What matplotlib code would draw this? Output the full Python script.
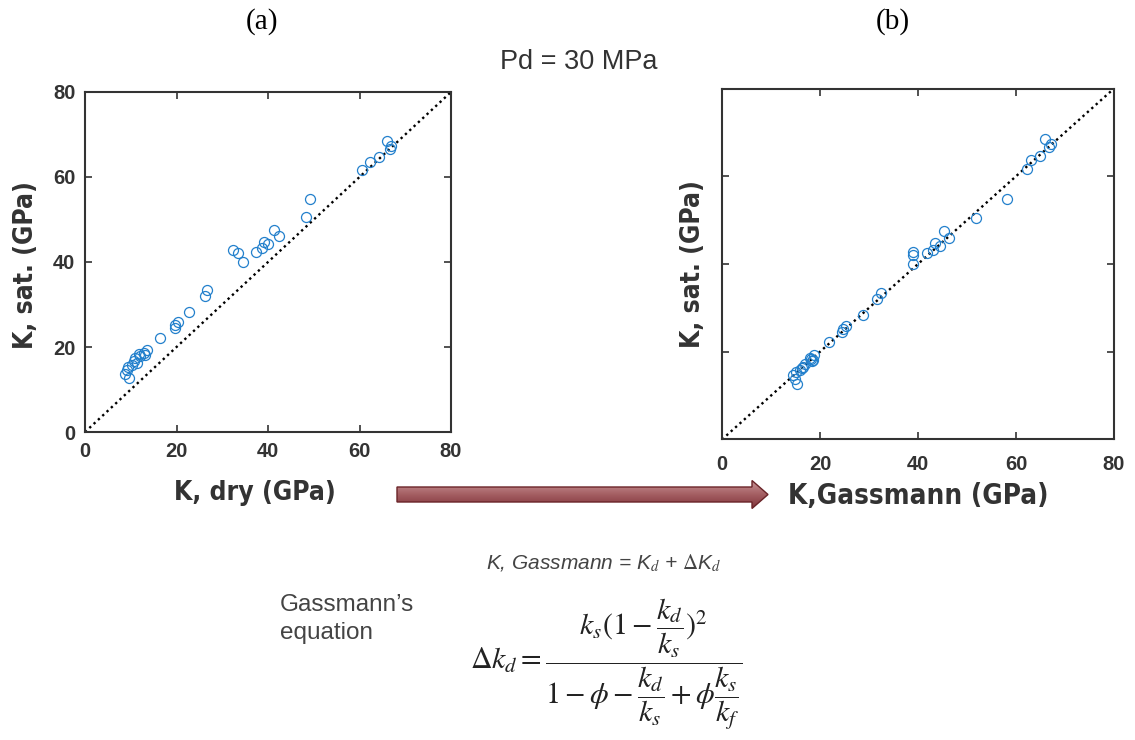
import matplotlib
matplotlib.use("Agg")
import matplotlib.pyplot as plt
import numpy as np
from matplotlib.patches import FancyArrow
from matplotlib import font_manager as fm

# ---------------- data ----------------
k_sat = [68.4, 67.3, 66.7, 64.6, 63.6, 61.7, 54.8, 50.5, 47.5, 46.0, 44.8, 44.2,
         43.2, 42.4, 42.8, 42.0, 39.9, 33.4, 32.0, 28.3, 25.8, 25.2, 24.4, 22.2,
         19.2, 18.6, 18.3, 17.8, 17.3, 16.6, 16.2, 15.8, 15.4, 14.6, 13.7, 12.7, 18.2]
k_dry = [66.0, 66.9, 66.7, 64.3, 62.2, 60.5, 49.1, 48.4, 41.2, 42.5, 39.1, 40.1,
         38.6, 37.4, 32.3, 33.4, 34.5, 26.6, 26.3, 22.8, 20.4, 19.7, 19.7, 16.4,
         13.5, 12.8, 11.7, 12.0, 10.9, 10.6, 11.3, 10.2, 9.5, 9.1, 8.7, 9.6, 13.1]
k_gass = [66.0, 67.2, 66.7, 65.0, 63.0, 62.3, 58.1, 51.9, 45.4, 46.4, 43.5, 44.5,
          43.0, 41.8, 38.9, 38.9, 38.9, 32.5, 31.7, 28.8, 25.4, 24.7, 24.5, 21.8,
          18.8, 17.9, 18.2, 18.4, 16.9, 16.5, 16.3, 15.9, 15.2, 14.5, 14.9, 15.4, 18.6]
ticks = [0, 20, 40, 60, 80]

# ---------------- fonts ----------------
cond_path = None
cands = []
for f in fm.fontManager.ttflist:
    low = f.fname.lower()
    if ("condensed" in low or "narrow" in low) and ("bold" in low) and ("oblique" not in low) and ("italic" not in low):
        cands.append(f.fname)
cands.sort(key=lambda p: (0 if "liberation" in p.lower() else 1 if "dejavu" in p.lower() else 2, p))
if cands:
    cond_path = cands[0]

def lab_font(size):
    if cond_path:
        return fm.FontProperties(fname=cond_path, size=size)
    return fm.FontProperties(family="Liberation Sans", weight="bold", size=size)

plt.rcParams["mathtext.fontset"] = "stix"

W, H = 1135, 740
fig = plt.figure(figsize=(W / 100, H / 100), dpi=100)

blue = "#2380cc"
dark = "#333333"

def panel(rect, x, y, xlabel, show_yticks, xpad, xsize):
    ax = fig.add_axes(rect)
    ax.plot([0, 80], [0, 80], linestyle=(0, (1, 1.5)), color="black", lw=1.7, zorder=1)
    ax.plot(x, y, linestyle="none", marker="o", markersize=7.2, mfc="none",
            mec=blue, mew=0.9, zorder=2)
    ax.set_xlim(0, 80)
    ax.set_ylim(0, 80)
    ax.set_xticks(ticks)
    ax.set_yticks(ticks)
    ax.tick_params(direction="in", top=True, right=True, length=5, width=1.2,
                   colors=dark)
    ax.tick_params(axis="x", pad=xpad)
    ax.tick_params(axis="y", pad=7)
    for lab in ax.get_xticklabels() + ax.get_yticklabels():
        lab.set_fontfamily("Liberation Sans")
        lab.set_fontweight("bold")
        lab.set_fontsize(14.5)
        lab.set_color(dark)
    if not show_yticks:
        ax.set_yticklabels([])
    for s in ax.spines.values():
        s.set_linewidth(1.5)
        s.set_color(dark)
    ax.set_xlabel(xlabel, fontproperties=lab_font(xsize), color=dark)
    ax.set_ylabel("K, sat. (GPa)", fontproperties=lab_font(19), color=dark)
    return ax

axa = panel([0.0749, 0.4162, 0.3225, 0.4595], k_dry, k_sat, "K, dry (GPa)", True, 7, 19)
axa.xaxis.set_label_coords(0.465, -0.142)
axa.yaxis.set_label_coords(-0.125, 0.49)

axb = panel([0.6361, 0.4061, 0.3454, 0.4743], k_gass, k_sat, "K,Gassmann (GPa)", False, 11, 20)
axb.xaxis.set_label_coords(0.5, -0.12)
axb.yaxis.set_label_coords(-0.04, 0.5)

# ---------------- annotations ----------------
fig.text(262 / W, 1 - 22 / H, "(a)", family="Liberation Serif", fontsize=21,
         ha="center", va="center")
fig.text(893 / W, 1 - 22 / H, "(b)", family="Liberation Serif", fontsize=21,
         ha="center", va="center")
fig.text(579 / W, 1 - 62 / H, "Pd = 30 MPa", family="Liberation Sans", fontsize=19.5,
         ha="center", va="center", color=dark)

# gradient arrow
ov = fig.add_axes([0, 0, 1, 1], zorder=-1)
ov.set_xlim(0, W)
ov.set_ylim(0, H)
ov.axis("off")
arrow = FancyArrow(397, H - 494.5, 371, 0, width=15, head_width=28, head_length=16,
                   length_includes_head=True, facecolor="none", edgecolor="#6a2428",
                   lw=1.0, transform=ov.transData, zorder=3)
ov.add_patch(arrow)
grad = np.linspace(0, 1, 64).reshape(-1, 1)
from matplotlib.colors import LinearSegmentedColormap
cmap = LinearSegmentedColormap.from_list("arr", ["#c99698", "#a45e62", "#7e3338"])
im = ov.imshow(grad, cmap=cmap, aspect="auto", extent=[397, 768, H - 509, H - 480],
               origin="upper", zorder=2)
im.set_clip_path(arrow)

fig.text(604 / W, 1 - 563 / H, r"K, Gassmann = K$_d$ + $\Delta$K$_d$",
         family="Liberation Sans", style="italic", fontsize=15, ha="center",
         va="center", color="#444444")
fig.text(280 / W, 1 - 619 / H, "Gassmann\u2019s\nequation", family="Liberation Sans",
         fontsize=17.5, ha="left", va="center", color="#444444", linespacing=1.38)
fig.text(606 / W, 1 - 664 / H,
         r"$\Delta k_d = \dfrac{k_s(1-\dfrac{k_d}{k_s})^2}{1-\phi-\dfrac{k_d}{k_s}+\phi\dfrac{k_s}{k_f}}$",
         fontsize=21.5, ha="center", va="center", color="#222222")

fig.savefig("out.png", dpi=100)
